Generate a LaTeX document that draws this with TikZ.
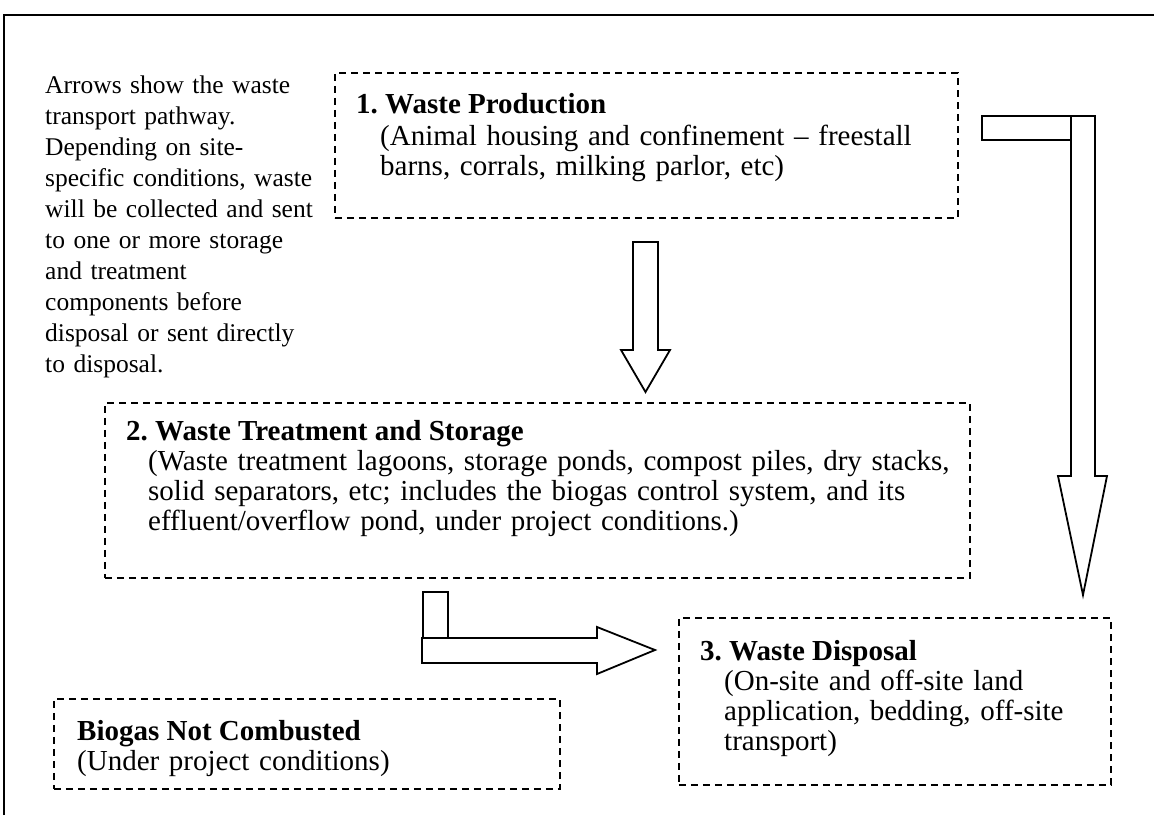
\documentclass[tikz,border=0pt]{standalone}
\usepackage{fontspec}
\setmainfont{Liberation Serif}
\frenchspacing
\begin{document}
\begin{tikzpicture}[x=1pt,y=-1pt]
\tikzset{
  box/.style={draw, dash pattern=on 7pt off 5pt, line width=1.5pt, inner sep=0pt, anchor=north west},
  txt/.style={anchor=base west, inner sep=0pt, text width=900pt, align=left, font=\fontsize{29}{30}\selectfont},
  notetxt/.style={anchor=base west, inner sep=0pt, text width=300pt, align=left, font=\fontsize{25.5}{31}\selectfont},
  ttl/.style={anchor=base west, inner sep=0pt, font=\fontsize{29}{30}\selectfont\bfseries},
  blk/.style={draw, line width=1.8pt, fill=white, line join=miter},
  frame/.style={draw, line width=2.5pt}
}
\useasboundingbox (0,0) rectangle (1154,815);
% frame
\draw[frame] (4,815) -- (4,15) -- (1154,15);
% note
\node[notetxt] (note) at (45,93) {Arrows show the waste\\transport pathway.\\Depending on site-\\specific conditions, waste\\will be collected and sent\\to one or more storage\\and treatment\\components before\\disposal or sent directly\\to disposal.};
% box 1
\node[box, minimum width=623pt, minimum height=145pt] (b1) at (334,72) {};
\node[ttl] (t1) at (356,113) {1. Waste Production};
\node[txt] (d1) at (380,145) {(Animal housing and confinement -- freestall\\barns, corrals, milking parlor, etc)};
% box 2
\node[box, minimum width=865pt, minimum height=175pt] (b2) at (104,402) {};
\node[ttl] (t2) at (126,440) {2. Waste Treatment and Storage};
\node[txt] (d2) at (148,470) {(Waste treatment lagoons, storage ponds, compost piles, dry stacks,\\solid separators, etc; includes the biogas control system, and its\\effluent/overflow pond, under project conditions.)};
% box 3
\node[box, minimum width=432pt, minimum height=167pt] (b3) at (678,617) {};
\node[ttl] (t3) at (700,660) {3. Waste Disposal};
\node[txt] (d3) at (724,690) {(On-site and off-site land\\application, bedding, off-site\\transport)};
% box 4
\node[box, minimum width=506pt, minimum height=90pt] (b4) at (53,698) {};
\node[ttl] (t4) at (77,740) {Biogas Not Combusted};
\node[txt] (d4) at (77,770) {(Under project conditions)};
% down arrow 1 -> 2
\draw[blk] (633,242) -- (658,242) -- (658,350) -- (670,350) -- (645.5,392) -- (621,350) -- (633,350) -- cycle;
% right L arrow 1 -> 3
\draw[blk] (982,116) rectangle (1071,140);
\draw[blk] (1071,116) -- (1095,116) -- (1095,476) -- (1107,476) -- (1083,595) -- (1058,476) -- (1071,476) -- cycle;
% bottom L arrow 2 -> 3
\draw[blk] (423,592) rectangle (448,638);
\draw[blk] (422,638) -- (597,638) -- (597,627) -- (655,650) -- (597,674) -- (597,663) -- (422,663) -- cycle;
\end{tikzpicture}
\end{document}
